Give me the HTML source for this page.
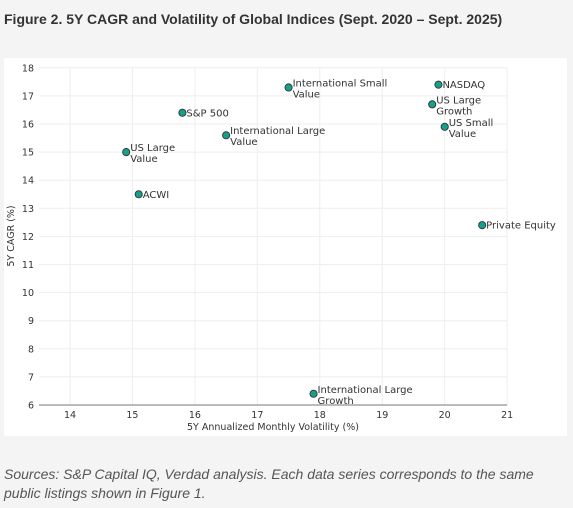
<!DOCTYPE html>
<html><head><meta charset="utf-8"><style>
body{margin:0;background:#f4f4f4;width:573px;height:508px;overflow:hidden;font-family:"Liberation Sans",sans-serif}
#title{position:absolute;left:4px;top:11px;font-size:14px;font-weight:bold;color:#333}
#src{position:absolute;left:4px;top:465px;font-size:14px;font-style:italic;color:#555;line-height:19px}
svg{position:absolute;left:0;top:0;font-family:"DejaVu Sans",sans-serif}
</style></head><body>
<div id="title">Figure 2. 5Y CAGR and Volatility of Global Indices (Sept. 2020 – Sept. 2025)</div>
<svg id="chart" width="573" height="508"></svg>
<div id="src">Sources: S&amp;P Capital IQ, Verdad analysis. Each data series corresponds to the same<br>public listings shown in Figure 1.</div>
<script>
const names=["US Large|Value","ACWI","S&P 500","International Large|Value","International Small|Value","International Large|Growth","NASDAQ","US Large|Growth","US Small|Value","Private Equity"];
const vol=[14.9,15.1,15.8,16.5,17.5,17.9,19.9,19.8,20.0,20.6];
const cagr=[15.0,13.5,16.4,15.6,17.3,6.4,17.4,16.7,15.9,12.4];
const xTicks=[14,15,16,17,18,19,20,21];
const yTicks=[6,7,8,9,10,11,12,13,14,15,16,17,18];
const NS="http://www.w3.org/2000/svg";
const svg=document.getElementById('chart');
const X=v=>70+(v-14)*62.45, Y=v=>405-(v-6)*28.1;
function mk(t,a,p){const e=document.createElementNS(NS,t);for(const k in a)e.setAttribute(k,a[k]);(p||svg).appendChild(e);return e;}
const panel=mk('rect',{x:4,y:58,width:563,height:378,fill:'#fff'});


xTicks.forEach(t=>{const l=mk('line',{x1:X(t),x2:X(t),y1:Y(18),y2:Y(6),stroke:'#eee'});

const tx=mk('text',{x:X(t),y:418,'font-size':9.5,fill:'#333','text-anchor':'middle'});tx.textContent=t;
});
yTicks.forEach(t=>{const l=mk('line',{x1:39,x2:X(21),y1:Y(t),y2:Y(t),stroke:'#eee'});

const tx=mk('text',{x:34,y:Y(t)+3.5,'font-size':9.5,fill:'#333','text-anchor':'end'});tx.textContent=t;
});
const ax=mk('line',{x1:39,x2:X(21),y1:Y(6),y2:Y(6),stroke:'#777','stroke-width':1});

const xt=mk('text',{x:273,y:430,'font-size':9.5,fill:'#333','text-anchor':'middle'});xt.textContent='5Y Annualized Monthly Volatility (%)';

const yt=mk('text',{x:14,y:236,'font-size':9.5,fill:'#333','text-anchor':'middle',transform:'rotate(-90 14 236)'});yt.textContent='5Y CAGR (%)';

names.forEach((n,i)=>{const cx=X(vol[i]),cy=Y(cagr[i]);
const c=mk('circle',{cx,cy,r:3.6,fill:'#14a08a',stroke:'#333','stroke-width':0.9});


const parts=n.split('|');
const t=mk('text',{x:cx+4,y:parts.length>1?cy-1:cy+3.5,'font-size':10,fill:'#333'});

parts.forEach((p,j)=>{const s=mk('tspan',{x:cx+4,dy:j?11:0},t);s.textContent=p;});});
</script>
</body></html>
